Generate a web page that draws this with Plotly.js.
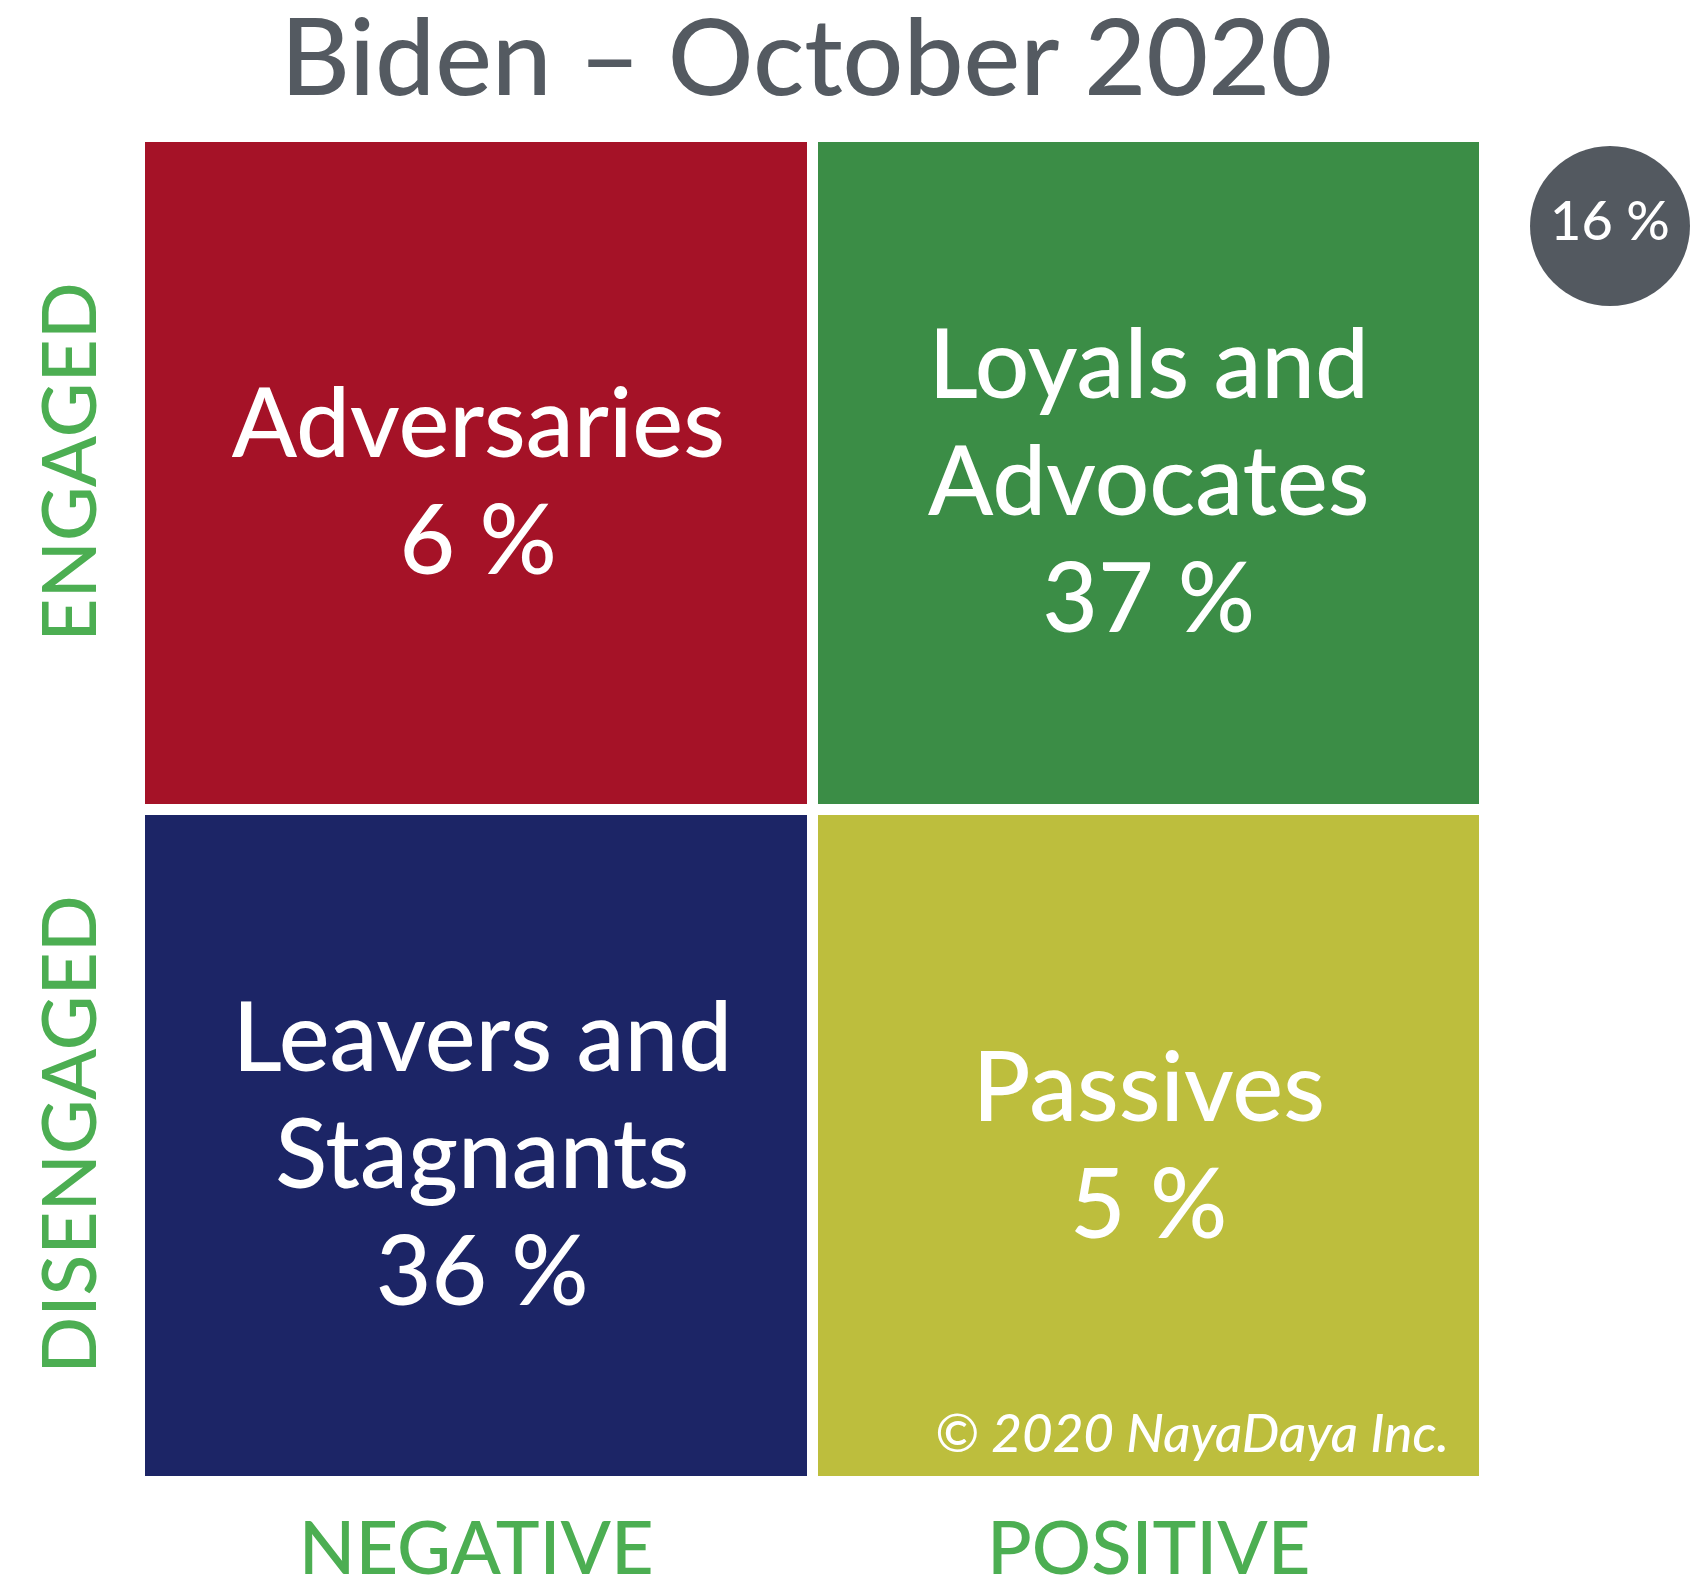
<!DOCTYPE html>
<html>
<head>
<meta charset="utf-8">
<script src="https://cdn.plot.ly/plotly-3.0.1.min.js"></script>
<style>
  html, body { margin: 0; padding: 0; background: #ffffff; }
  #chart { width: 1703px; height: 1583px; }
</style>
</head>
<body>
<div id="chart"></div>
<script>
// ---------------- DATA ----------------
const chartTitle = "Biden – October 2020";
const attitudeLabels = ["NEGATIVE", "POSITIVE"];          // x categories
const engagementLabels = ["DISENGAGED", "ENGAGED"];        // y categories
const segmentNames = ["Adversaries", "Loyals and Advocates", "Leavers and Stagnants", "Passives"];
const segmentLines = [["Adversaries"], ["Loyals and", "Advocates"], ["Leavers and", "Stagnants"], ["Passives"]];
const segmentShares = [6, 37, 36, 5];                       // percent
const segmentAttitude = [0, 1, 0, 1];                       // index into attitudeLabels
const segmentEngagement = [1, 1, 0, 0];                     // index into engagementLabels
const unclassifiedShare = 16;                               // percent, shown in the grey circle
const copyrightText = "© 2020 NayaDaya Inc.";

// ---------------- STYLE ----------------
const segmentColors = ["#a51227", "#3b8d46", "#1c2566", "#bdbe3d"];
const axisGreen = "#4cae52";
const titleGrey = "#545a61";
const circleGrey = "#535960";
const FONT = "Lato, 'Open Sans', sans-serif";
const WEIGHT = 500;

const W = 1703, H = 1583;
const M = { l: 140, r: 0, t: 137, b: 101 };
const gridPx = 1345;                 // pixel size of the 2x2 grid
const pxPerX = gridPx / 2;
const pxPerY = gridPx / 2;
const plotW = W - M.l - M.r;
const xMax = plotW / pxPerX;         // x range extends right to hold the circle

// heatmap grid of segment indices
const z = engagementLabels.map(() => attitudeLabels.map(() => null));
segmentNames.forEach((s, i) => { z[segmentEngagement[i]][segmentAttitude[i]] = i; });
const cs = segmentColors.map((c, i) => [i / (segmentColors.length - 1), c]);

const heat = {
  type: "heatmap",
  x: attitudeLabels.map((_, i) => i + 0.5),
  y: engagementLabels.map((_, i) => i + 0.5),
  z: z,
  zmin: 0, zmax: segmentColors.length - 1,
  colorscale: cs,
  showscale: false,
  xgap: 11, ygap: 11,
  zsmooth: false,
  hoverinfo: "skip"
};

// text lines inside each quadrant
const QFS = 96, LS = 117;
const blockOffsets = [42, 42, 42, 34];   // px below quadrant centre of the mean baseline
const blockShiftX = [2, 0, 6, 0];        // small horizontal nudges (px)
const tx = [], ty = [], tt = [];
segmentNames.forEach((s, i) => {
  const lines = segmentLines[i].concat([segmentShares[i] + " %"]);
  const n = lines.length;
  lines.forEach((ln, k) => {
    const baselineOffsetPx = blockOffsets[i] + (k - (n - 1) / 2) * LS;
    const anchorOffsetPx = baselineOffsetPx - 0.25 * QFS;
    tx.push(segmentAttitude[i] + 0.5 + blockShiftX[i] / pxPerX);
    ty.push(segmentEngagement[i] + 0.5 - anchorOffsetPx / pxPerY);
    tt.push(ln);
  });
});
const labels = {
  type: "scatter", mode: "text",
  x: tx, y: ty, text: tt,
  textposition: "middle center",
  textfont: { family: FONT, size: QFS, color: "#ffffff", weight: WEIGHT },
  hoverinfo: "skip", cliponaxis: false
};

// grey circle with the unclassified share (right of the grid, top)
const circle = {
  type: "scatter", mode: "markers+text",
  x: [(1610 - M.l) / pxPerX],
  y: [2 - (226 - M.t) / pxPerY],
  text: [unclassifiedShare + " %"],
  textposition: "middle center",
  textfont: { family: FONT, size: 54, color: "#ffffff", weight: WEIGHT },
  marker: { size: 160, color: circleGrey, line: { width: 0 } },
  hoverinfo: "skip", cliponaxis: false
};

const layout = {
  width: W, height: H,
  margin: M,
  paper_bgcolor: "#ffffff", plot_bgcolor: "#ffffff",
  showlegend: false,
  font: { family: FONT },
  title: {
    text: chartTitle,
    font: { family: FONT, size: 107, color: titleGrey, weight: WEIGHT },
    xref: "container", x: (M.l + gridPx / 2 - 6) / W, xanchor: "center",
    yref: "container", y: 1 - 20 / H, yanchor: "top"
  },
  xaxis: {
    range: [0, xMax], fixedrange: true,
    tickvals: attitudeLabels.map((_, i) => i + 0.5),
    ticktext: attitudeLabels,
    tickfont: { family: FONT, size: 74, color: axisGreen, weight: WEIGHT },
    ticks: "outside", ticklen: 2, tickcolor: "rgba(0,0,0,0)",
    showgrid: false, zeroline: false, showline: false
  },
  yaxis: {
    range: [0, 2], fixedrange: true,
    tickvals: engagementLabels.map((_, i) => i + 0.5),
    ticktext: engagementLabels,
    tickangle: -90,
    tickfont: { family: FONT, size: 75, color: axisGreen, weight: WEIGHT },
    ticks: "outside", ticklen: 13, tickcolor: "rgba(0,0,0,0)",
    showgrid: false, zeroline: false, showline: false
  },
  annotations: [{
    text: "<i>" + copyrightText + "</i>",
    xref: "x", yref: "y",
    x: (1451 - M.l) / pxPerX, y: (H - M.b - 1465) / pxPerY,
    xanchor: "right", yanchor: "bottom",
    showarrow: false,
    font: { family: FONT, size: 53, color: "#ffffff", weight: WEIGHT }
  }]
};

Plotly.newPlot("chart", [heat, labels, circle], layout, { displayModeBar: false, staticPlot: true });
</script>
</body>
</html>
